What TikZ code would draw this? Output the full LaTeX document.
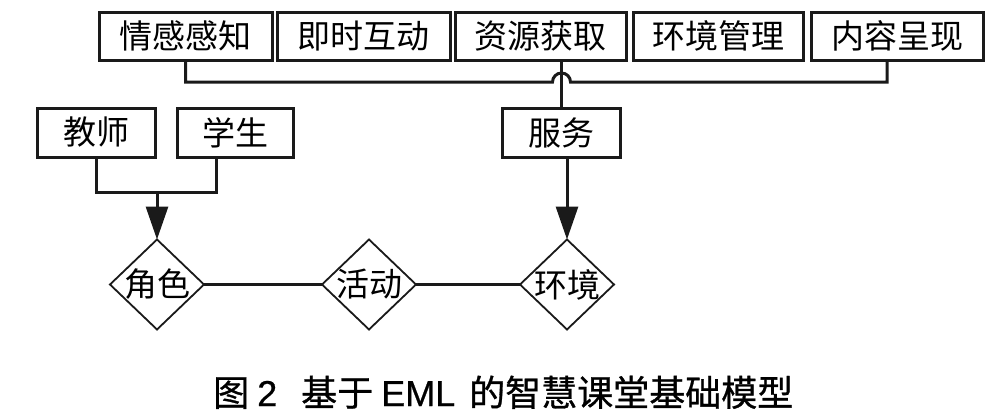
\documentclass[tikz,border=0pt]{standalone}
\usepackage{fontspec}
\setmainfont{Noto Sans CJK SC}
\newfontfamily\capcjk[FakeBold=0.8]{Noto Sans CJK SC}
\newfontfamily\caplat[FakeBold=0.6]{Liberation Sans}
\usetikzlibrary{shapes.geometric,arrows.meta}
\definecolor{ink}{HTML}{1A1A1A}
\tikzset{
  boxnode/.style={draw=ink, line width=3pt, inner sep=0pt, outer sep=0pt,
    minimum height=48pt, font=\fontsize{33}{36}\selectfont, text=black},
  dia/.style={draw=ink, diamond, line width=1.8pt, inner sep=0pt, outer sep=0pt,
    minimum width=94pt, minimum height=90pt, aspect=1},
  dlabel/.style={font=\fontsize{33}{36}\selectfont, text=black, inner sep=0pt},
  conn/.style={draw=ink, line width=3pt},
  arr/.style={-{Triangle[length=33pt,width=22pt]}},
  captext/.style={font=\fontsize{36}{40}\selectfont\capcjk, text=black, inner sep=0pt}
}
\begin{document}
\begin{tikzpicture}[x=1pt,y=-1pt]
\useasboundingbox[fill=white] (0,0) rectangle (1008,415);
% top row
\node[boxnode, minimum width=173pt] (q1) at (185.5,36) {情感感知};
\node[boxnode, minimum width=173pt] (q2) at (363.5,36) {即时互动};
\node[boxnode, minimum width=171pt] (q3) at (540.5,36) {资源获取};
\node[boxnode, minimum width=170pt] (q4) at (718,36) {环境管理};
\node[boxnode, minimum width=172pt] (q5) at (897,36) {内容呈现};
% second row
\node[boxnode, minimum width=118pt, minimum height=49pt] (ts) at (96,132.5) {教师};
\node[boxnode, minimum width=116pt, minimum height=49pt] (xs) at (235,132.5) {学生};
\node[boxnode, minimum width=118pt, minimum height=49pt] (fw) at (561.5,132.5) {服务};
% diamonds
\node[dia, label={[dlabel]center:角色}] (js) at (157,284.5) {};
\node[dia, label={[dlabel]center:活动}] (hd) at (369,284.5) {};
\node[dia, label={[dlabel]center:环境}] (hj) at (567,284.5) {};
% bus with hop
\coordinate (busL) at (185.5,82);
\coordinate (hopL) at (552.5,82);
\coordinate (busR) at (887,82);
\draw[conn] (q1.south) -- (busL) -- (hopL)
  arc[start angle=180, end angle=0, radius=9pt] -- (busR) -- (busR |- q5.south);
\draw[conn] (fw.north |- q3.south) -- (fw.north);
% teacher/student to role
\coordinate (jn) at (157,192);
\draw[conn] (ts.south) |- (jn) -| ([xshift=-19pt]xs.south);
\draw[conn, arr] (jn) -- (js.north);
% service to environment
\draw[conn, arr] (fw.south -| hj.north) -- (hj.north);
% diamond links
\draw[conn, line width=2.4pt] (js.east) -- (hd.west);
\draw[conn, line width=2.4pt] (hd.east) -- (hj.west);
% caption
\node[captext, anchor=base west] (caption) at (213,406) {图\hspace{8pt}{\caplat 2}\hspace{24pt}基于\hspace{8pt}{\caplat EML}\hspace{14pt}的智慧课堂基础模型};
\end{tikzpicture}
\end{document}
